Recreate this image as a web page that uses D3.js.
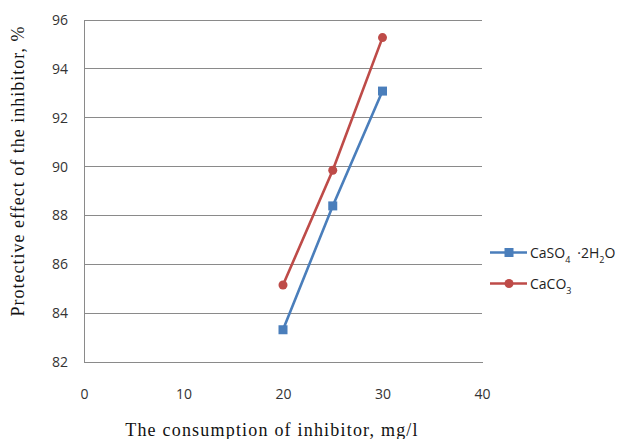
<!DOCTYPE html>
<html><head><meta charset="utf-8">
<script src="https://cdn.jsdelivr.net/npm/d3@7"></script>
<style>body{margin:0;background:#fff}svg{display:block}</style>
</head><body>
<svg id="c" width="623" height="439"></svg>
<script>
const xValues = [20, 25, 30];
const caso4 = [83.32, 88.39, 93.09];
const caco3 = [85.15, 89.85, 95.28];
const xTicks = [0, 10, 20, 30, 40];
const yTicks = [82, 84, 86, 88, 90, 92, 94, 96];
const seriesNames = ["CaSO4·2H2O", "CaCO3"];

const svg = d3.select("#c");
const x = d3.scaleLinear().domain([0, 40]).range([84, 482]);
const y = d3.scaleLinear().domain([82, 96]).range([362, 20]);
const blue = "#4a7ebb", red = "#be4b48";

// gridlines
svg.append("g").selectAll("line").data(yTicks.slice(1)).join("line")
  .attr("x1", x(0)).attr("x2", x(40)).attr("y1", d => y(d)).attr("y2", d => y(d))
  .attr("stroke", "#8a8a8a").attr("stroke-width", 1).attr("shape-rendering", "crispEdges");

// axes
const yAxis = svg.append("g").attr("transform", `translate(${x(0)},0)`)
  .call(d3.axisLeft(y).tickValues(yTicks).tickSize(0).tickPadding(16));
const xAxis = svg.append("g").attr("transform", `translate(0,${y(82)})`)
  .call(d3.axisBottom(x).tickValues(xTicks).tickSize(0).tickPadding(27));
[yAxis, xAxis].forEach(a => {
  a.select(".domain").attr("stroke", "#8a8a8a").attr("shape-rendering", "crispEdges");
  a.selectAll("text").attr("font-family", "Open Sans, Liberation Sans, sans-serif")
    .attr("font-size", 14).attr("fill", "#333");
});

// lines
const line = d3.line().x((d, i) => x(xValues[i])).y(d => y(d));
svg.append("path").datum(caso4).attr("d", line).attr("fill", "none").attr("stroke", blue).attr("stroke-width", 2.6);
svg.append("path").datum(caco3).attr("d", line).attr("fill", "none").attr("stroke", red).attr("stroke-width", 2.6);
svg.append("g").selectAll("rect").data(caso4).join("rect")
  .attr("x", (d, i) => x(xValues[i]) - 4.5).attr("y", d => y(d) - 4.5)
  .attr("width", 9).attr("height", 9).attr("fill", blue);
svg.append("g").selectAll("circle").data(caco3).join("circle")
  .attr("cx", (d, i) => x(xValues[i])).attr("cy", d => y(d)).attr("r", 4.5).attr("fill", red);

// axis titles
svg.append("text").attr("x", 272).attr("y", 436).attr("text-anchor", "middle")
  .attr("font-family", "Liberation Serif, Times New Roman, serif").attr("font-size", 18)
  .attr("letter-spacing", 1.2).attr("fill", "#111")
  .text("The consumption of inhibitor, mg/l");
svg.append("text").attr("transform", "translate(24,171) rotate(-90)").attr("text-anchor", "middle")
  .attr("font-family", "Liberation Serif, Times New Roman, serif").attr("font-size", 18)
  .attr("letter-spacing", 1).attr("fill", "#111")
  .text("Protective effect of the inhibitor, %");

// legend
const lg = svg.append("g").attr("font-family", "Open Sans, Liberation Sans, sans-serif").attr("font-size", 14).attr("fill", "#222");
const ly = [252.5, 283.5];
lg.append("line").attr("x1", 490).attr("x2", 527).attr("y1", ly[0]).attr("y2", ly[0]).attr("stroke", blue).attr("stroke-width", 2.6);
lg.append("rect").attr("x", 504.5).attr("y", ly[0] - 4.5).attr("width", 9).attr("height", 9).attr("fill", blue);
lg.append("line").attr("x1", 490).attr("x2", 527).attr("y1", ly[1]).attr("y2", ly[1]).attr("stroke", red).attr("stroke-width", 2.6);
lg.append("circle").attr("cx", 509).attr("cy", ly[1]).attr("r", 4.5).attr("fill", red);
const t1 = lg.append("text").attr("x", 530).attr("y", ly[0] + 5);
t1.append("tspan").text("CaSO");
t1.append("tspan").attr("font-size", 9).attr("dy", 5).text("4");
t1.append("tspan").attr("dy", -5).attr("dx", 7).text("·2H");
t1.append("tspan").attr("font-size", 9).attr("dy", 5).text("2");
t1.append("tspan").attr("dy", -5).text("O");
const t2 = lg.append("text").attr("x", 530).attr("y", ly[1] + 5);
t2.append("tspan").text("CaCO");
t2.append("tspan").attr("font-size", 9).attr("dy", 5).text("3");
</script>
</body></html>
